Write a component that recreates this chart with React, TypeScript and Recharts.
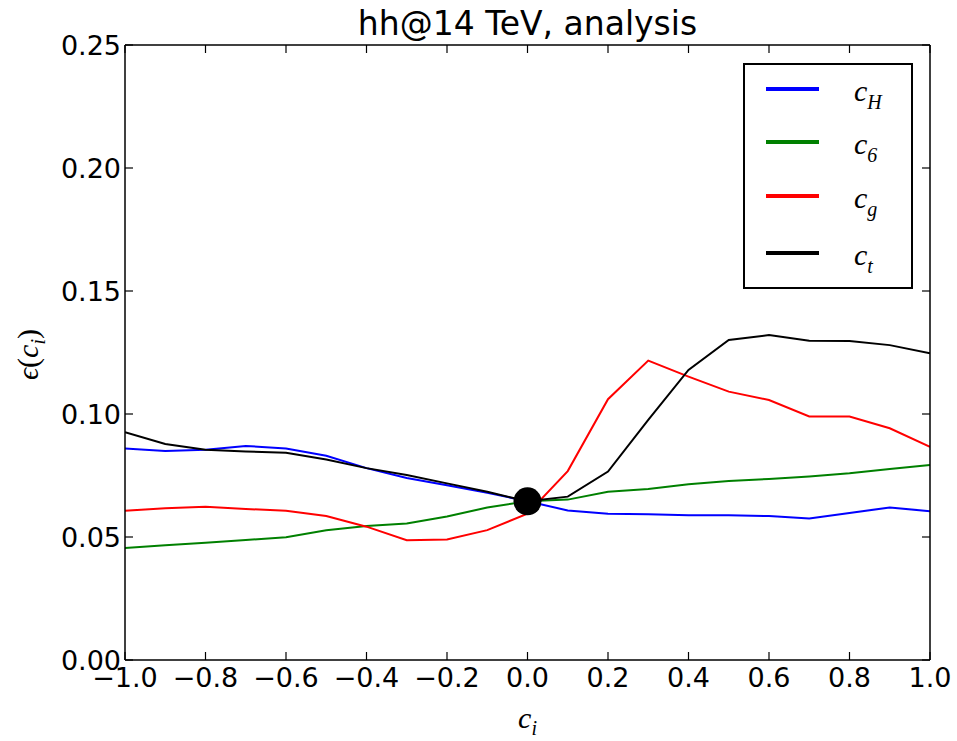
import { LineChart, Line, XAxis, YAxis, Legend, ReferenceDot, Label } from 'recharts'

// efficiency vs coupling at 0.1 steps
const cValues = [-1.0, -0.9, -0.8, -0.7, -0.6, -0.5, -0.4, -0.3, -0.2, -0.1, 0.0, 0.1, 0.2, 0.3, 0.4, 0.5, 0.6, 0.7, 0.8, 0.9, 1.0]
const epsH = [0.086, 0.085, 0.0855, 0.087, 0.086, 0.083, 0.078, 0.074, 0.071, 0.068, 0.0645, 0.0608, 0.0595, 0.0592, 0.0588, 0.0588, 0.0585, 0.0575, 0.0598, 0.062, 0.0605]
const eps6 = [0.0455, 0.0466, 0.0477, 0.0488, 0.0499, 0.0527, 0.0545, 0.0555, 0.0583, 0.062, 0.0645, 0.0652, 0.0684, 0.0695, 0.0714, 0.0728, 0.0736, 0.0746, 0.0759, 0.0776, 0.0793]
const epsG = [0.0607, 0.0617, 0.0623, 0.0614, 0.0607, 0.0585, 0.0542, 0.0487, 0.049, 0.0528, 0.0595, 0.0768, 0.106, 0.1217, 0.1152, 0.1091, 0.1057, 0.099, 0.099, 0.0942, 0.0866]
const epsT = [0.0926, 0.0878, 0.0855, 0.0848, 0.0842, 0.0815, 0.078, 0.0752, 0.0718, 0.0684, 0.0645, 0.0664, 0.0766, 0.0976, 0.1179, 0.1301, 0.1321, 0.1298, 0.1297, 0.128, 0.1247]

const seriesKeys = ['cH', 'c6', 'cg', 'ct']
const seriesSubs = ['H', '6', 'g', 't']
const seriesColors = ['#0000ff', '#008000', '#ff0000', '#000000']

const xTicks = [-1.0, -0.8, -0.6, -0.4, -0.2, 0.0, 0.2, 0.4, 0.6, 0.8, 1.0]
const yTicks = [0.0, 0.05, 0.1, 0.15, 0.2, 0.25]

// SM point where all curves meet
const smC = 0.0
const smEps = 0.0645

const data = cValues.map((c, i) => ({
  c,
  cH: epsH[i],
  c6: eps6[i],
  cg: epsG[i],
  ct: epsT[i],
}))

const SANS = "'DejaVu Sans', sans-serif"
const MATH = "'Liberation Serif', 'DejaVu Serif', serif"
const tickStyle = { fontFamily: SANS, fontSize: 27, fill: '#000' }
const frame = { stroke: '#000', strokeWidth: 1.5 }
const tickMark = { stroke: '#000', strokeWidth: 1.2 }

const fmtX = (v: number) => (v < -1e-9 ? '\u2212' : '') + Math.abs(v).toFixed(1)
const fmtY = (v: number) => v.toFixed(2)

function YTitle(props: any) {
  const vb = props.viewBox || { x: 0, y: 45, width: 125, height: 615 }
  const cx = vb.x + 38
  const cy = vb.y + vb.height / 2 + 2
  return (
    <text
      x={cx}
      y={cy}
      transform={`rotate(-90 ${cx} ${cy})`}
      textAnchor="middle"
      fontFamily={MATH}
      fontSize={30}
      fill="#000"
    >
      <tspan fontStyle="italic">{'\u03f5'}</tspan>
      <tspan>(</tspan>
      <tspan fontStyle="italic">c</tspan>
      <tspan fontStyle="italic" fontSize={20} dy={7}>i</tspan>
      <tspan dy={-7}>)</tspan>
    </text>
  )
}

function XTitle(props: any) {
  const vb = props.viewBox || { x: 125, y: 660, width: 805, height: 81 }
  const cx = vb.x + vb.width / 2
  const cy = vb.y + 68
  return (
    <text x={cx} y={cy} textAnchor="middle" fontFamily={MATH} fontSize={30} fill="#000">
      <tspan fontStyle="italic">c</tspan>
      <tspan fontStyle="italic" fontSize={20} dy={7}>i</tspan>
    </text>
  )
}

function LegendBox() {
  return (
    <svg width={170} height={226} style={{ display: 'block' }}>
      <rect x={1} y={1} width={168} height={224} fill="#fff" stroke="#000" strokeWidth={2} />
      {seriesKeys.map((k, i) => {
        const ly = [26, 79, 133, 190][i]
        return (
          <g key={k}>
            <line x1={23} x2={76} y1={ly} y2={ly} stroke={seriesColors[i]} strokeWidth={4} />
            <text x={111} y={ly + 12} fontFamily={MATH} fontSize={30} fontStyle="italic" fill="#000">
              c
              <tspan fontSize={20} dy={8}>{seriesSubs[i]}</tspan>
            </text>
          </g>
        )
      })}
    </svg>
  )
}

export default function App() {
  return (
    <div style={{ position: 'relative', width: 957, height: 741, background: '#fff' }}>
      <style>{'body{margin:0}'}</style>
      <div
        style={{
          position: 'absolute',
          left: 125,
          width: 805,
          top: 7,
          textAlign: 'center',
          fontFamily: SANS,
          fontSize: 33,
          lineHeight: '33px',
          color: '#000',
          zIndex: 2,
        }}
      >
        hh@14 TeV, analysis
      </div>
      <LineChart width={957} height={741} data={data} margin={{ top: 44, right: 26, bottom: 0, left: 0 }}>
        <XAxis
          dataKey="c"
          type="number"
          domain={[-1, 1]}
          ticks={xTicks}
          tickFormatter={fmtX}
          allowDataOverflow
          height={81}
          tick={tickStyle}
          tickSize={-8}
          tickMargin={16}
          axisLine={frame}
          tickLine={tickMark}
        >
          <Label content={XTitle} />
        </XAxis>
        {/* mirrored top/right axes: inward ticks, no labels, close the frame */}
        <XAxis
          xAxisId="top"
          orientation="top"
          dataKey="c"
          type="number"
          domain={[-1, 1]}
          ticks={xTicks}
          tickFormatter={() => ''}
          allowDataOverflow
          height={1}
          tickSize={-8}
          axisLine={frame}
          tickLine={tickMark}
        />
        <YAxis
          type="number"
          domain={[0, 0.25]}
          ticks={yTicks}
          tickFormatter={fmtY}
          allowDataOverflow
          width={125}
          tick={tickStyle}
          tickSize={-8}
          tickMargin={12}
          axisLine={frame}
          tickLine={tickMark}
        >
          <Label content={YTitle} />
        </YAxis>
        <YAxis
          yAxisId="right"
          orientation="right"
          type="number"
          domain={[0, 0.25]}
          ticks={yTicks}
          tickFormatter={() => ''}
          allowDataOverflow
          width={1}
          tickSize={-8}
          axisLine={frame}
          tickLine={tickMark}
        />
        {seriesKeys.map((k, i) => (
          <Line
            key={k}
            xAxisId={k === 'ct' ? 'top' : 0}
            dataKey={k}
            type="linear"
            stroke={seriesColors[i]}
            strokeWidth={2}
            dot={false}
            isAnimationActive={false}
          />
        ))}
        <ReferenceDot x={smC} y={smEps} r={14} fill="#000" stroke="none" />
        <Legend
          layout="vertical"
          align="center"
          verticalAlign="middle"
          content={LegendBox}
          wrapperStyle={{ left: 743, top: 63, width: 170, height: 226 }}
        />
      </LineChart>
    </div>
  )
}
